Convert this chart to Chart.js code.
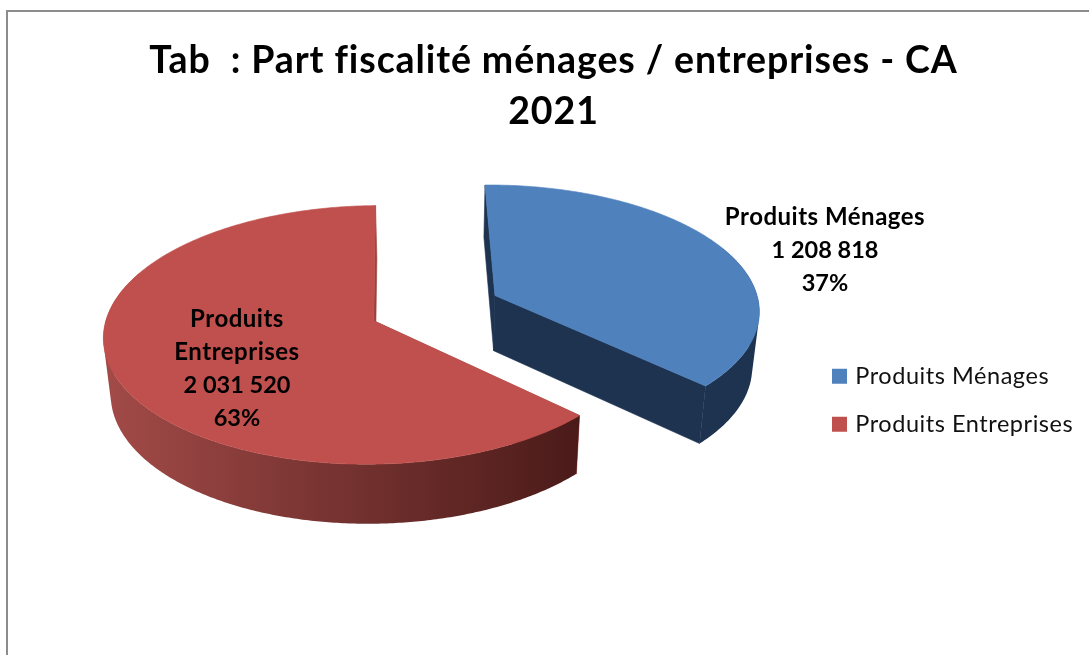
<!DOCTYPE html>
<html>
<head>
<meta charset="utf-8">
<style>
  html, body { margin: 0; padding: 0; background: #fff; overflow: hidden; }
  #wrap { position: relative; width: 1089px; height: 655px; }
  #frame { position: absolute; left: 6px; top: 10px; right: -4px; bottom: -4px; border: 2px solid #8c8c8c; }
  canvas { position: absolute; left: 0; top: 0; }
</style>
<script src="https://cdn.jsdelivr.net/npm/chart.js@4"></script>
</head>
<body>
<div id="wrap">
  <div id="frame"></div>
  <canvas id="myChart" width="1089" height="655"></canvas>
</div>
<script>
const categories = ['Produits Ménages', 'Produits Entreprises'];
const values = [1208818, 2031520];
const titleLines = ['Tab  : Part fiscalité ménages / entreprises - CA', '2021'];
const labelLines = [['Produits Ménages'], ['Produits', 'Entreprises']];

const topColors = ['#4f81bd', '#c0504d'];
const FONT = 'Lato, Carlito, sans-serif';

// fake 3D view of the pie, the circle is projected with a small perspective
const view = {
  cx: 435, cy: 308,      // screen position of the pie centre
  rx: 265, ry: 125,      // radii of the flattened circle
  persp: 0.108,          // nearer = bigger
  depth: 55.5,           // thickness of the pie
  shrink: 0.022,         // lower face is a bit smaller
  explode: 0.25,         // slice offset, in radius units
};
const labelPos = [{ x: 825, y: 217 }, { x: 237, y: 319 }];
const labelStep = 33.3;

function project(u, v, low) {
  const w = 1 / (1 - view.persp * v);
  const s = low ? 1 - view.shrink : 1;
  return {
    x: view.cx + view.rx * u * s * w,
    y: view.cy + (view.ry * v * s + (low ? view.depth : 0)) * w,
  };
}

function sliceGeometry(arc) {
  const { startAngle, endAngle } = arc.getProps(['startAngle', 'endAngle']);
  const mid = (startAngle + endAngle) / 2;
  const ox = Math.cos(mid) * view.explode;
  const oy = Math.sin(mid) * view.explode;
  const steps = Math.ceil((endAngle - startAngle) / 0.01);
  const rim = [];
  for (let i = 0; i <= steps; i++) {
    const a = startAngle + (endAngle - startAngle) * i / steps;
    rim.push({ u: ox + Math.cos(a), v: oy + Math.sin(a), front: Math.sin(a) > -0.4 });
  }
  return { apex: { u: ox, v: oy }, rim };
}

function polygon(ctx, pts, fill) {
  ctx.beginPath();
  pts.forEach((p, i) => (i ? ctx.lineTo(p.x, p.y) : ctx.moveTo(p.x, p.y)));
  ctx.closePath();
  ctx.fillStyle = fill;
  ctx.strokeStyle = fill;
  ctx.lineWidth = 0.6;
  ctx.fill();
  ctx.stroke();
}

function wallPaint(ctx, i) {
  if (i === 0) return '#1d3350';
  const g = ctx.createLinearGradient(101, 0, 577, 0);
  g.addColorStop(0, '#a34b48');
  g.addColorStop(0.45, '#7a3533');
  g.addColorStop(1, '#4b1b19');
  return g;
}

// all quads go in one path with the same winding, one fill leaves no seams
function fillWall(ctx, rimPoints, paint) {
  ctx.beginPath();
  for (let k = 0; k < rimPoints.length - 1; k++) {
    const a = rimPoints[k];
    const b = rimPoints[k + 1];
    const quad = [project(a.u, a.v), project(b.u, b.v), project(b.u, b.v, true), project(a.u, a.v, true)];
    let area = 0;
    quad.forEach((p, n) => {
      const q = quad[(n + 1) % 4];
      area += p.x * q.y - q.x * p.y;
    });
    if (area < 0) quad.reverse();
    quad.forEach((p, n) => (n ? ctx.lineTo(p.x, p.y) : ctx.moveTo(p.x, p.y)));
    ctx.closePath();
  }
  ctx.fillStyle = paint;
  ctx.fill('nonzero');
}

function drawSlice(ctx, arc, i) {
  const { apex, rim } = sliceGeometry(arc);
  const paint = wallPaint(ctx, i);
  const cutFaces = () => {
    [rim[0], rim[rim.length - 1]].forEach((e) => {
      polygon(ctx, [
        project(apex.u, apex.v), project(e.u, e.v),
        project(e.u, e.v, true), project(apex.u, apex.v, true),
      ], i === 0 ? paint : '#9a403d');
    });
  };
  // blue cut face is in front of its wall, the red ones are behind
  if (i === 1) cutFaces();
  fillWall(ctx, rim.filter((p) => p.front), paint);
  if (i === 0) cutFaces();
  // top face
  const top = [project(apex.u, apex.v)].concat(rim.map((p) => project(p.u, p.v)));
  polygon(ctx, top, topColors[i]);
}

function formatValue(n) {
  return String(n).replace(/\B(?=(\d{3})+$)/g, ' ');
}

const pie3d = {
  id: 'pie3d',
  afterLayout(chart) {
    // legend sits right of the pie, not centred in the leftover box
    const lg = chart.legend;
    lg.left = 835.5 - lg.options.labels.padding;
    lg.top = 364.5 - lg.options.labels.padding;
    if (!lg.spaced) {
      // Lato runs narrower than the original font
      const drawLegend = lg.draw.bind(lg);
      lg.draw = () => {
        chart.ctx.letterSpacing = '0.55px';
        drawLegend();
        chart.ctx.letterSpacing = '0.9px';
      };
      lg.spaced = true;
    }
  },
  beforeDraw(chart) {
    chart.ctx.letterSpacing = '0.9px';
  },
  // native flat arcs are replaced by the projected ones below
  beforeDatasetDraw() {
    return false;
  },
  afterDatasetsDraw(chart) {
    const { ctx } = chart;
    const arcs = chart.getDatasetMeta(0).data;
    const total = values.reduce((a, b) => a + b, 0);
    ctx.save();
    drawSlice(ctx, arcs[1], 1);
    drawSlice(ctx, arcs[0], 0);

    ctx.fillStyle = '#000';
    ctx.textAlign = 'center';
    ctx.textBaseline = 'middle';
    values.forEach((val, i) => {
      const lines = labelLines[i].concat([formatValue(val), `${Math.round((val / total) * 100)}%`]);
      lines.forEach((line, k) => {
        const isWord = k < labelLines[i].length;
        ctx.font = `bold ${isWord ? 24 : 23.5}px ${FONT}`;
        ctx.letterSpacing = isWord ? '0.5px' : '0px';
        ctx.fillText(line, labelPos[i].x, labelPos[i].y + k * labelStep);
      });
    });
    ctx.restore();
  },
};

new Chart(document.getElementById('myChart'), {
  type: 'pie',
  data: {
    labels: categories,
    datasets: [{ data: values, backgroundColor: topColors, borderWidth: 0 }],
  },
  options: {
    responsive: false,
    animation: false,
    rotation: -1,
    layout: { padding: { left: 18, top: 0 } },
    plugins: {
      tooltip: { enabled: false },
      title: {
        display: true,
        text: titleLines,
        color: '#000',
        font: { family: FONT, size: 37.5, weight: 'bold', lineHeight: 1.37 },
        padding: { top: 35, bottom: 10 },
      },
      legend: {
        position: 'right',
        align: 'start',
        labels: {
          usePointStyle: true,
          pointStyle: 'rect',
          boxWidth: 8,
          boxHeight: 15,
          color: '#111',
          font: { family: FONT, size: 23.5 },
          padding: 24.5,
        },
      },
    },
  },
  plugins: [pie3d],
});
</script>
</body>
</html>
